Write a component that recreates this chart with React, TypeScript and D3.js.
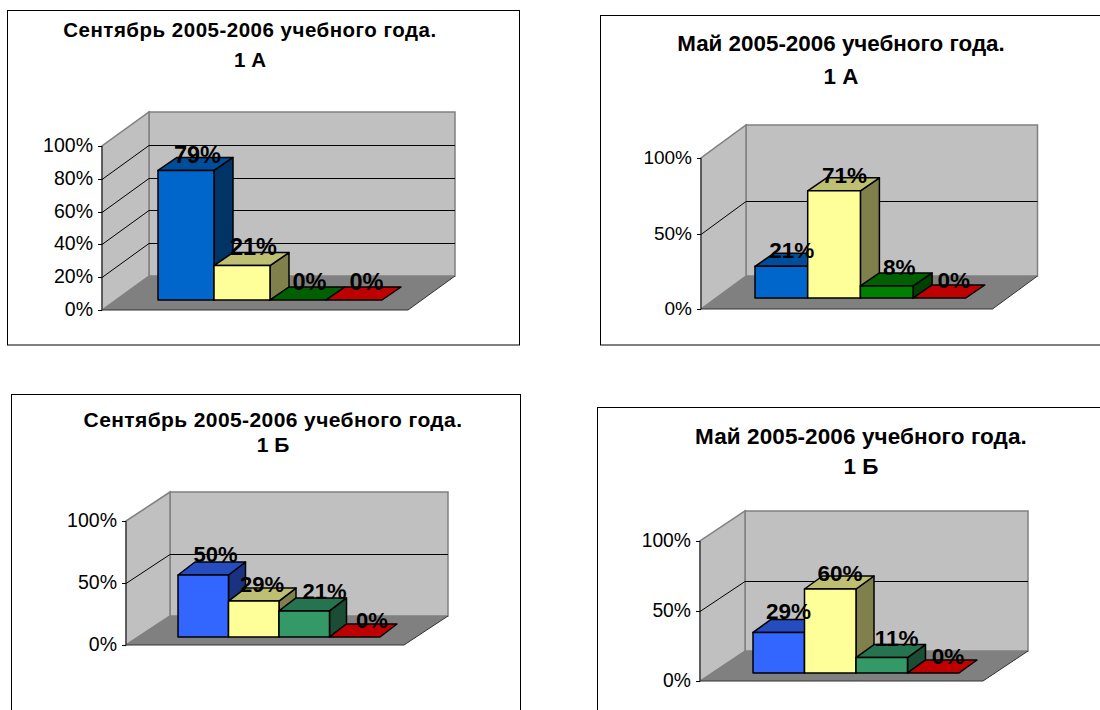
import React from "react";
import * as d3 from "d3";

const categories = ["a", "b", "c", "d"];
const titles = [
  "Сентябрь 2005-2006 учебного года.",
  "Май 2005-2006 учебного года.",
  "Сентябрь 2005-2006 учебного года.",
  "Май 2005-2006 учебного года.",
];
const classes = ["1 А", "1 А", "1 Б", "1 Б"];
const sept1A = [79, 21, 0, 0];
const may1A = [21, 71, 8, 0];
const sept1B = [50, 29, 21, 0];
const may1B = [29, 60, 11, 0];
const seriesValues = [sept1A, may1A, sept1B, may1B];
const ticksFine = [0, 20, 40, 60, 80, 100];
const ticksCoarse = [0, 50, 100];
const tickSets = [ticksFine, ticksCoarse, ticksCoarse, ticksCoarse];

const paletteA = [
  ["#0066CC", "#004D99", "#003366"],
  ["#FFFF99", "#BFBF73", "#80804D"],
  ["#008000", "#006000", "#004000"],
  ["#FF0000", "#BF0000", "#800000"],
];
const paletteB = [
  ["#3366FF", "#264DBF", "#1A3380"],
  ["#FFFF99", "#BFBF73", "#80804D"],
  ["#339966", "#267350", "#1A4D33"],
  ["#FF0000", "#BF0000", "#800000"],
];
const palettes = [paletteA, paletteA, paletteB, paletteB];

// Layout of each panel: frame, wall corners, bar band, title and label nudges.
const layouts = [
  { fx: 7.5, fy: 10.5, fw: 512, fh: 334.5, x0: 102, y0: 310, w: 306, h: 164, dx: 47, dy: 34, bx: 158, bw: 56, base: 300, bdx: 19, bdy: 13, tx: 250, ty1: 37, ty2: 67, ts: 20.5, ls: 0.5, tick: 19.5, lab: 23.5, tickDy: -1.5,
    nudgeX: [0, 0, 0, 1], nudgeY: [1, -3, -2, -2] },
  { fx: 600.5, fy: 15.5, fw: 520, fh: 329.5, x0: 701, y0: 309, w: 291.5, h: 151, dx: 45, dy: 33, bx: 755, bw: 52.7, base: 298, bdx: 19, bdy: 13, tx: 841, ty1: 51, ty2: 84, ts: 22.4, ls: 0, tick: 19, lab: 22.5, tickDy: -1,
    nudgeX: [-1, -1, 1, 3], nudgeY: [0, 0, -3, -2] },
  { fx: 11.5, fy: 394.5, fw: 509, fh: 330, x0: 126, y0: 645, w: 278, h: 124, dx: 44, dy: 29, bx: 178, bw: 50.5, base: 637, bdx: 17, bdy: 13, tx: 273, ty1: 427, ty2: 452, ts: 21, ls: 0.4, tick: 19.5, lab: 22, tickDy: -1.5,
    nudgeX: [2, -2, 10, 7], nudgeY: [-5, -1, -4, -1] },
  { fx: 597.5, fy: 407.5, fw: 520, fh: 330, x0: 700, y0: 681, w: 283, h: 140, dx: 45, dy: 30, bx: 753, bw: 51.5, base: 673, bdx: 18, bdy: 13, tx: 861, ty1: 444, ty2: 474, ts: 22.5, ls: 0.1, tick: 19.3, lab: 22.5, tickDy: -1,
    nudgeX: [-1, -1, 4, 4], nudgeY: [-5, 0, -4, -1] },
];

const FONT = "'Liberation Sans', Arial, sans-serif";
const poly = (pts: number[][]) => (d3.line()(pts as [number, number][]) as string) + "Z";

function Panel({ i }: { i: number }) {
  const L = layouts[i];
  const values = seriesValues[i];
  const pal = palettes[i];
  const wallY = d3.scaleLinear().domain([0, 100]).range([L.y0, L.y0 - L.h]);
  const barY = d3.scaleLinear().domain([0, 100]).range([L.base, L.base - L.h]);
  const barX = d3
    .scaleBand<string>()
    .domain(categories)
    .range([L.bx, L.bx + L.bw * categories.length])
    .padding(0);
  const xR = L.x0 + L.w;
  return (
    <g>
      <rect x={L.fx} y={L.fy} width={L.fw} height={L.fh} fill="#fff" stroke="#000" strokeWidth={1} />
      <text x={L.tx} y={L.ty1} textAnchor="middle" fontFamily={FONT} fontWeight="bold" fontSize={L.ts} letterSpacing={L.ls} fill="#000">{titles[i]}</text>
      <text x={L.tx} y={L.ty2} textAnchor="middle" fontFamily={FONT} fontWeight="bold" fontSize={L.ts} fill="#000">{classes[i]}</text>
      {/* back wall */}
      <path d={poly([[L.x0 + L.dx, L.y0 - L.dy], [L.x0 + L.dx, wallY(100) - L.dy], [xR + L.dx, wallY(100) - L.dy], [xR + L.dx, L.y0 - L.dy]])} fill="#C0C0C0" stroke="#808080" strokeWidth={1.5} />
      {/* side wall */}
      <path d={poly([[L.x0, L.y0], [L.x0, wallY(100)], [L.x0 + L.dx, wallY(100) - L.dy], [L.x0 + L.dx, L.y0 - L.dy]])} fill="#C0C0C0" stroke="#808080" strokeWidth={1.5} />
      {/* floor */}
      <path d={poly([[L.x0, L.y0], [L.x0 + L.dx, L.y0 - L.dy], [xR + L.dx, L.y0 - L.dy], [xR, L.y0]])} fill="#808080" />
      <path d={`M${L.x0},${L.y0}H${xR}L${xR + L.dx},${L.y0 - L.dy}`} fill="none" stroke="#333" strokeWidth={1} />
      <path d={`M${L.x0},${wallY(100)}V${L.y0}`} fill="none" stroke="#222" strokeWidth={1} />
      {/* gridlines and ticks */}
      {tickSets[i].map((t) => {
        const y = Math.round(wallY(t)) + 0.5;
        return (
          <g key={t}>
            {t > 0 && t < 100 && (
              <path d={`M${L.x0},${y}L${L.x0 + L.dx},${y - L.dy}H${xR + L.dx}`} fill="none" stroke="#000" strokeWidth={1} />
            )}
            <path d={`M${L.x0 - 4},${y}H${L.x0}`} stroke="#000" strokeWidth={1} />
            <text x={L.x0 - 9} y={y + L.tickDy} dy="0.36em" textAnchor="end" fontFamily={FONT} fontSize={L.tick} fill="#000">{t}%</text>
          </g>
        );
      })}
      {/* bars */}
      {categories.map((c, k) => {
        const x = barX(c) as number;
        const bw = barX.bandwidth();
        const top = barY(values[k]);
        const [front, upper, side] = pal[k];
        return (
          <g key={c} stroke="#000" strokeWidth={1.5} strokeLinejoin="round">
            {values[k] > 0 && (
              <path d={poly([[x + bw, L.base], [x + bw, top], [x + bw + L.bdx, top - L.bdy], [x + bw + L.bdx, L.base - L.bdy]])} fill={side} />
            )}
            <path d={poly([[x, top], [x + L.bdx, top - L.bdy], [x + bw + L.bdx, top - L.bdy], [x + bw, top]])} fill={upper} />
            {values[k] > 0 && <path d={poly([[x, L.base], [x, top], [x + bw, top], [x + bw, L.base]])} fill={front} />}
          </g>
        );
      })}
      {/* data labels */}
      {categories.map((c, k) => {
        const x = barX(c) as number;
        const bw = barX.bandwidth();
        return (
          <text key={c} x={x + bw / 2 + L.bdx * 0.6 + L.nudgeX[k]} y={barY(values[k]) - L.bdy + 5 + L.nudgeY[k]} textAnchor="middle" fontFamily={FONT} fontWeight="bold" fontSize={L.lab} fill="#000">{values[k]}%</text>
        );
      })}
    </g>
  );
}

export default function App() {
  return (
    <svg width={1100} height={710} viewBox="0 0 1100 710" style={{ position: "absolute", left: 0, top: 0, display: "block", background: "#fff" }}>
      {layouts.map((_, i) => <Panel key={i} i={i} />)}
    </svg>
  );
}
